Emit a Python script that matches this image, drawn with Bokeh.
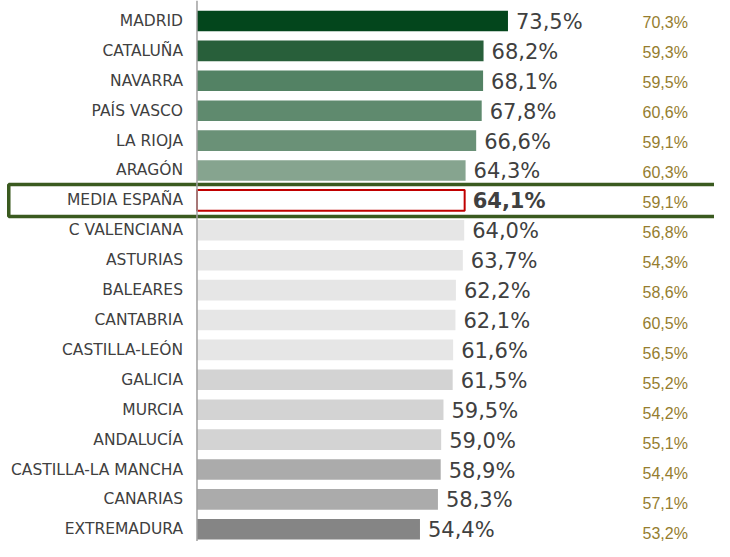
from bokeh.plotting import figure
from bokeh.models import ColumnDataSource, Range1d, Span
from bokeh.core.properties import value
from bokeh.embed import file_html
from bokeh.resources import INLINE

# ---- data ----
regions = ["MADRID", "CATALUÑA", "NAVARRA", "PAÍS VASCO", "LA RIOJA", "ARAGÓN",
           "MEDIA ESPAÑA", "C VALENCIANA", "ASTURIAS", "BALEARES", "CANTABRIA",
           "CASTILLA-LEÓN", "GALICIA", "MURCIA", "ANDALUCÍA", "CASTILLA-LA MANCHA",
           "CANARIAS", "EXTREMADURA"]
current = [73.5, 68.2, 68.1, 67.8, 66.6, 64.3, 64.1, 64.0, 63.7, 62.2, 62.1,
           61.6, 61.5, 59.5, 59.0, 58.9, 58.3, 54.4]
previous = [70.3, 59.3, 59.5, 60.6, 59.1, 60.3, 59.1, 56.8, 54.3, 58.6, 60.5,
            56.5, 55.2, 54.2, 55.1, 54.4, 57.1, 53.2]
bar_colors = ["#03461C", "#285F3A", "#538264", "#5F8A6E", "#6A9177", "#86A48F",
              "#FFFFFF", "#E6E6E6", "#E6E6E6", "#E6E6E6", "#E6E6E6", "#E6E6E6",
              "#D3D3D3", "#D3D3D3", "#D3D3D3", "#ABABAB", "#ABABAB", "#858585"]
HIGHLIGHT = "MEDIA ESPAÑA"

AXIS_MIN = 6.0


def fmt(v):
    return f"{v:.1f}".replace(".", ",") + "%"


rows = list(range(len(regions)))
src = ColumnDataSource(dict(
    y=rows,
    region=regions,
    value=current,
    prev=previous,
    color=bar_colors,
    line_alpha=[1.0 if r == HIGHLIGHT else 0.0 for r in regions],
    label=[fmt(v) for v in current],
    prev_label=[fmt(v) for v in previous],
    weight=["bold" if r == HIGHLIGHT else "normal" for r in regions],
))
hl = regions.index(HIGHLIGHT)
hl_src = ColumnDataSource(dict(y=[hl]))

p = figure(width=714, height=541, output_backend="svg", toolbar_location=None,
           x_range=Range1d(-36.65, 118.33), y_range=Range1d(17.408, -0.6856),
           min_border=0, min_border_left=0, min_border_right=0,
           min_border_top=0, min_border_bottom=0)
p.extra_y_ranges = {"right": Range1d(17.259, -0.7143)}
p.axis.visible = False
p.grid.visible = False
p.outline_line_color = None
p.background_fill_color = "white"

# highlight frame around the average row
p.rect(x=45.07, y="y", width=159.85, height=1.07, source=hl_src,
       fill_color=None, line_color="#3A5A1F", line_width=3.5)

# bars
p.hbar(y="y", left=AXIS_MIN, right="value", height=0.69, source=src,
       fill_color="color", line_color="#C00000", line_alpha="line_alpha",
       line_width=2)

# axis line
p.add_layout(Span(location=AXIS_MIN, dimension="height", line_color="#A0A0A0",
                  line_width=1.5))

# category labels
p.text(x=AXIS_MIN, y="y", text="region", source=src, x_offset=-14,
       text_align="right", text_baseline="middle",
       text_font=value("DejaVu Sans"), text_font_size="15.5px",
       text_color="#404040")

# value labels
p.text(x="value", y="y", text="label", source=src, x_offset=8, y_offset=1,
       text_align="left", text_baseline="middle",
       text_font=value("DejaVu Sans"), text_font_size="21px",
       text_font_style="weight", text_color="#404040")

# previous-year column
p.text(x=102.7, y="y", text="prev_label", source=src, y_range_name="right",
       text_align="left", text_baseline="middle",
       text_font=value("Liberation Sans"), text_font_size="16px",
       text_color="#957D2E")

open("out.html", "w").write(file_html(p, INLINE))
